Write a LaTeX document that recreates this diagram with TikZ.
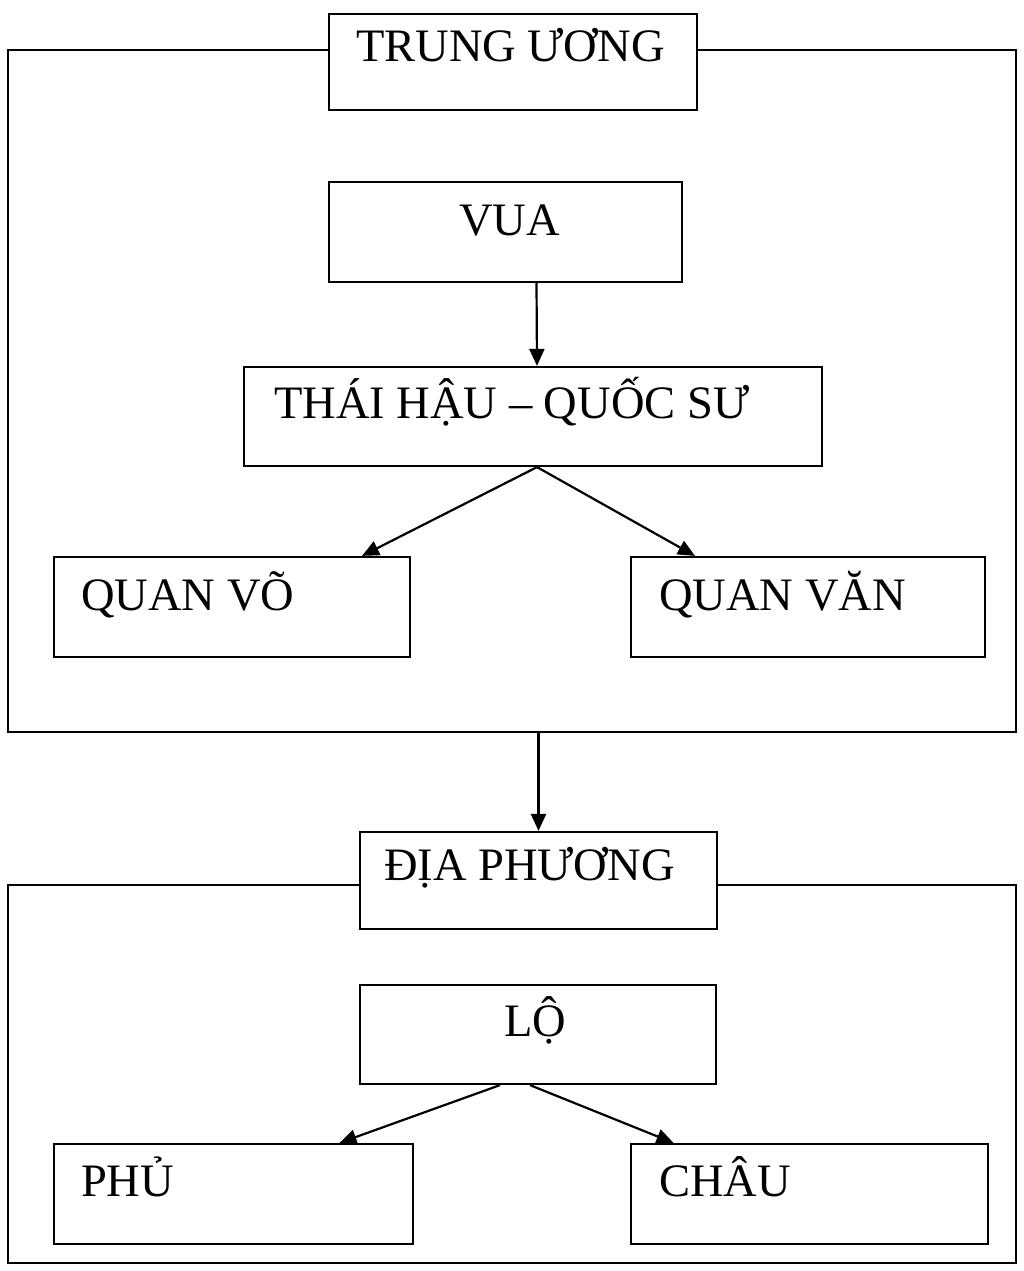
\documentclass[tikz,border=0pt]{standalone}
\usepackage{fontspec}
\setmainfont{Liberation Serif}
\usetikzlibrary{arrows.meta}

\begin{document}
\begin{tikzpicture}[x=1pt,y=-1pt]
		\useasboundingbox (0,0) rectangle (1024,1271);
		\tikzset{frame/.style={draw,line width=2.2pt,inner sep=0pt},
		         unit/.style={draw,fill=white,line width=2.2pt,inner sep=0pt},
		         txt/.style={anchor=base west,inner sep=0pt,font=\fontsize{46.5}{56}\selectfont}}

		% frames
		\node[frame,minimum width=1008,minimum height=682] (tu) at (512,391) {};
		\node[frame,minimum width=1008,minimum height=378] (dpf) at (512,1074) {};

		\begin{scope}[every node/.style={unit}]
		    	\node[minimum width=368,minimum height=96] (tw) at (513,62) {};
			\node[minimum width=353,minimum height=100] (vua) at (505.5,232) {};
		    	\node[minimum width=578,minimum height=99] (thai) at (533,416.5) {};
			\node[minimum width=356,minimum height=100] (vo) at (232,607) {};
		    	\node[minimum width=354,minimum height=100] (van) at (808,607) {};
			\node[minimum width=357,minimum height=97] (dp) at (538.5,880.5) {};
		    	\node[minimum width=356,minimum height=99] (lo) at (538,1034.5) {};
			\node[minimum width=359,minimum height=100] (phu) at (233.5,1194) {};
		    	\node[minimum width=357,minimum height=100] (chau) at (809.5,1194) {};
		\end{scope}

		\begin{scope}[every node/.style={txt}]
			\node at ([shift={(28,49)}]tw.north west) {TRUNG ƯƠNG};
			\node at ([shift={(131,55)}]vua.north west) {VUA};
			\node at ([shift={(31,53)}]thai.north west) {THÁI HẬU – QUỐC SƯ};
			\node at ([shift={(28,55)}]vo.north west) {QUAN VÕ};
			\node at ([shift={(29,55)}]van.north west) {QUAN VĂN};
			\node at ([shift={(25,50)}]dp.north west) {ĐỊA PHƯƠNG};
			\node at ([shift={(145,53)}]lo.north west) {LỘ};
			\node at ([shift={(28,54)}]phu.north west) {PHỦ};
			\node at ([shift={(29,54)}]chau.north west) {CHÂU};
		\end{scope}

		\begin{scope}[line width=2.2pt,>={Triangle[length=17pt,width=15pt]}]
			\draw[->] ([xshift=31]vua.south) -- ([xshift=4]thai.north);
			\draw[->] ([xshift=4]thai.south) -- ([xshift=130]vo.north);
			\draw[->] ([xshift=4]thai.south) -- ([xshift=-113]van.north);
			\draw[->] (tu.south -| dp.north) -- (dp.north);
			\draw[->] ([xshift=-38]lo.south) -- ([xshift=106]phu.north);
			\draw[->] ([xshift=-8]lo.south) -- ([xshift=-136]chau.north);
		\end{scope}
		\end{tikzpicture}
\end{document}
